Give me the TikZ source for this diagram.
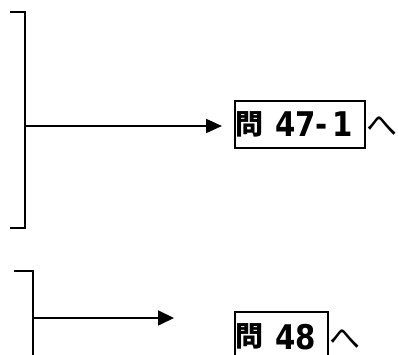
\documentclass[tikz,border=0pt]{standalone}
\usepackage{fontspec}
\usetikzlibrary{arrows.meta}
\newfontfamily\jpfont{Noto Sans CJK JP}
\newfontfamily\digfont[FakeStretch=0.86]{DejaVu Sans}
\tikzset{
  ln/.style={line width=1.8pt, line cap=butt, line join=miter},
  arr/.style={ln, -{Triangle[length=16pt,width=14pt]}},
  qbox/.style={draw, line width=1.8pt, anchor=north west, inner sep=0pt, minimum height=47pt},
  qtext/.style={anchor=base west, inner sep=0pt, text depth=0pt},
  hetext/.style={anchor=base west, inner sep=0pt, text depth=0pt, font=\jpfont\fontsize{31pt}{31pt}\selectfont},
}
\newcommand{\qmon}{\raisebox{2.5pt}{\jpfont\bfseries\fontsize{28pt}{28pt}\selectfont 問}}
\newcommand{\qdig}[1]{{\digfont\bfseries\fontsize{34pt}{34pt}\selectfont #1}}
\begin{document}
\begin{tikzpicture}[x=1pt,y=1pt]
\useasboundingbox (0,0) rectangle (398,355);
% upper bracket
\coordinate (a1) at (10,343);
\coordinate (a2) at (25,343);
\coordinate (a3) at (25,127);
\coordinate (a4) at (10,127);
\coordinate (am) at (25,229);
\coordinate (at) at (222,229);
\draw[ln] (a1) -- (a2) -- (a3) -- (a4);
\draw[arr] (am) -- (at);
\node[qbox, minimum width=130pt] (b1) at (234,255) {};
\node[qtext] (t1) at (235,218) {\qmon\hspace{12pt}\qdig{47-}\hspace{4pt}\qdig{1}};
\node[hetext] (h1) at (366,218) {へ};
% lower bracket
\coordinate (c1) at (14,84);
\coordinate (c2) at (33,84);
\coordinate (c3) at (33,-5);
\coordinate (cm) at (33,37);
\coordinate (ct) at (174,37);
\draw[ln] (c1) -- (c2) -- (c3);
\draw[ln, -{Triangle[length=16pt,width=15pt]}] (cm) -- (ct);
\node[qbox, minimum width=93pt] (b2) at (234,44) {};
\node[qtext] (t2) at (235,5.5) {\qmon\hspace{12pt}\qdig{48}};
\node[hetext] (h2) at (329,5.5) {へ};
\end{tikzpicture}
\end{document}
